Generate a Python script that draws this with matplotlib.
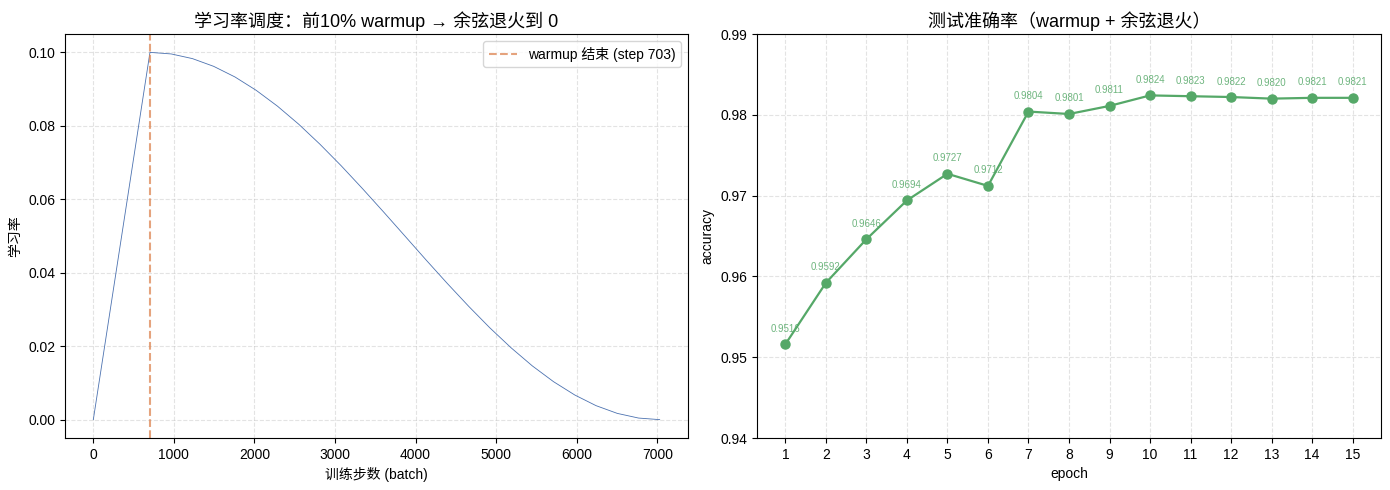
import matplotlib
matplotlib.use("Agg")
import matplotlib.pyplot as plt

plt.rcParams['font.family'] = ['Liberation Sans', 'Noto Sans CJK SC', 'DejaVu Sans']
plt.rcParams['axes.unicode_minus'] = False

# learning-rate schedule
lr_steps = [0, 703, 967, 1230, 1494, 1758, 2021, 2285, 2549, 2812, 3076, 3339,
            3603, 3867, 4130, 4394, 4658, 4921, 5185, 5448, 5712, 5976, 6239,
            6503, 6767, 7029]
lr_values = [0.0, 0.1, 0.09957, 0.0983, 0.09619, 0.0933, 0.08967, 0.08536,
             0.08044, 0.075, 0.06913, 0.06294, 0.05653, 0.05, 0.04347, 0.03706,
             0.03087, 0.025, 0.01956, 0.01464, 0.01033, 0.0067, 0.00381,
             0.0017, 0.00043, 0.0]
warmup_end = 703

epochs = list(range(1, 16))
accuracy = [0.9516, 0.9592, 0.9646, 0.9694, 0.9727, 0.9712, 0.9804, 0.9801,
            0.9811, 0.9824, 0.9823, 0.9822, 0.9820, 0.9821, 0.9821]

W, H = 1390, 490
fig = plt.figure(figsize=(13.9, 4.9), dpi=100)
ax1 = fig.add_axes([65 / W, 1 - 438 / H, (688 - 65) / W, (438 - 34) / H])
ax2 = fig.add_axes([757 / W, 1 - 438 / H, (1381 - 757) / W, (438 - 34) / H])

ax1.plot(lr_steps, lr_values, color="#4C72B0", linewidth=0.6)
ax1.axvline(warmup_end, color="#DD8452", linestyle="--", alpha=0.75,
            label=f"warmup 结束 (step {warmup_end})")
ax1.set_title("学习率调度：前10% warmup → 余弦退火到 0", fontsize=13, pad=5)
ax1.set_xlabel("训练步数 (batch)")
ax1.set_ylabel("学习率")
ax1.grid(True, linestyle="--", alpha=0.35)
ax1.legend(loc="upper right")

ax2.plot(epochs, accuracy, marker="o", color="#55A868", linewidth=1.6, markersize=6.5)
for e, a in zip(epochs, accuracy):
    ax2.annotate(f"{a:.4f}", (e, a), textcoords="offset points", xytext=(0, 9),
                 ha="center", fontsize=7, color="#55A868", alpha=0.85)
ax2.set_title("测试准确率（warmup + 余弦退火）", fontsize=13, pad=5)
ax2.set_xlabel("epoch")
ax2.set_ylabel("accuracy")
ax2.set_xticks(epochs)
ax2.set_ylim(0.94, 0.99)
ax2.grid(True, linestyle="--", alpha=0.35)

plt.savefig("out.png")
